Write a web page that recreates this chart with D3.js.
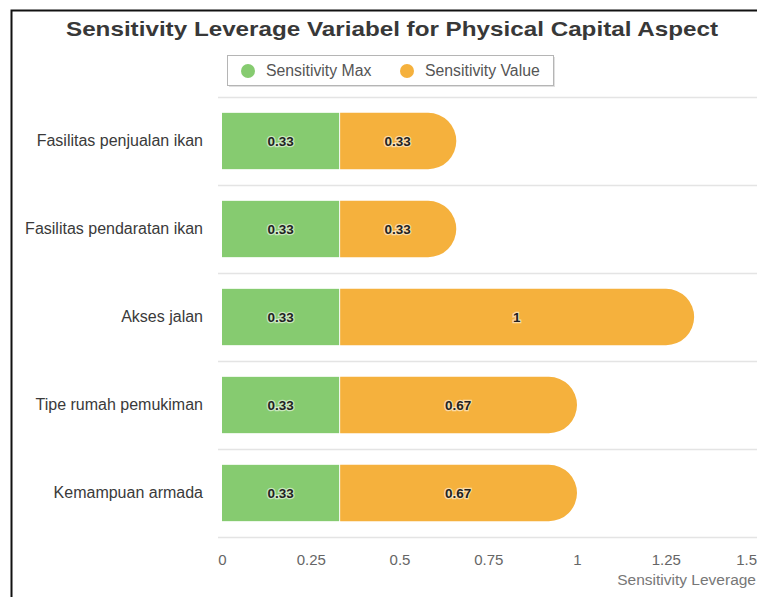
<!DOCTYPE html>
<html><head><meta charset="utf-8">
<script src="https://cdn.jsdelivr.net/npm/d3@7"></script>
<style>
html,body{margin:0;padding:0;background:#fff;}
svg{display:block;font-family:"Liberation Sans",Arial,sans-serif;}
</style></head>
<body>
<svg id="chart" width="757" height="597"></svg>
<script>
const title = "Sensitivity Leverage Variabel for Physical Capital Aspect";
const categories = ["Fasilitas penjualan ikan","Fasilitas pendaratan ikan","Akses jalan","Tipe rumah pemukiman","Kemampuan armada"];
const sensitivityMax = [0.33,0.33,0.33,0.33,0.33];
const sensitivityValue = [0.33,0.33,1,0.67,0.67];
const seriesNames = ["Sensitivity Max","Sensitivity Value"];
const seriesColors = ["#86cb70","#f5b13d"];
const xTicks = [0,0.25,0.5,0.75,1,1.25,1.5];
const xAxisTitle = "Sensitivity Leverage";

const svg = d3.select("#chart");
const W = 757, H = 597;
svg.append("rect").attr("width",W).attr("height",H).attr("fill","#fff");
// frame
svg.append("path").attr("d",`M11.5,${H} V10.5 H${W}`).attr("fill","none").attr("stroke","#111").attr("stroke-width",2);

const x = d3.scaleLinear().domain([0,1.5]).range([222,754.5]);
const y = d3.scaleBand().domain(categories).range([97,537]).paddingInner(0.36).paddingOuter(0.18);

// title
svg.append("text").attr("x",392).attr("y",36).attr("text-anchor","middle")
  .attr("font-size",21).attr("font-weight","bold").attr("fill","#383838")
  .attr("textLength",652).attr("lengthAdjust","spacingAndGlyphs").text(title);

// legend
const lg = svg.append("g");
lg.append("rect").attr("x",229).attr("y",57).attr("width",326).attr("height",30).attr("fill","#000").attr("opacity",0.12);
lg.append("rect").attr("x",227.5).attr("y",55.5).attr("width",326).attr("height",30).attr("fill","#fff").attr("stroke","#b5b5b5");
const legX = [248,407];
seriesNames.forEach((n,i)=>{
  lg.append("circle").attr("cx",legX[i]).attr("cy",71).attr("r",7).attr("fill",seriesColors[i]);
  lg.append("text").attr("x",legX[i]+18).attr("y",76).attr("font-size",15.8).attr("fill","#555").text(n);
});

// grid lines at band boundaries
const bounds = categories.map(c=>y(c)-y.step()*y.paddingInner()/2).concat([537]);
bounds[0]=97;
svg.append("g").selectAll("line").data(bounds).join("line")
  .attr("x1",218).attr("x2",W).attr("y1",d=>Math.round(d)+0.5).attr("y2",d=>Math.round(d)+0.5)
  .attr("stroke","#e4e4e4").attr("stroke-width",1.5);

// bars
const bh = y.bandwidth();
const rows = categories.map((c,i)=>({c,m:sensitivityMax[i],v:sensitivityValue[i]}));
const g = svg.append("g");
rows.forEach(d=>{
  const y0 = y(d.c);
  g.append("rect").attr("x",x(0)).attr("y",y0).attr("width",x(d.m)-x(0)).attr("height",bh).attr("fill",seriesColors[0]);
  const xs = x(d.m)+1, xe = x(d.m+d.v), r = bh/2;
  g.append("path").attr("d",`M${xs},${y0} H${xe-r} A${r},${r} 0 0 1 ${xe-r},${y0+bh} H${xs} Z`).attr("fill",seriesColors[1]);
  const lab = (t,cx)=>g.append("text").attr("x",cx).attr("y",y0+bh/2+5).attr("text-anchor","middle")
    .attr("font-size",13.5).attr("font-weight","bold").attr("fill","#222")
    .attr("stroke","#fff").attr("stroke-opacity",0.55).attr("stroke-width",2.5).attr("paint-order","stroke").text(t);
  lab(String(d.m),(x(0)+x(d.m))/2);
  lab(String(d.v),(x(d.m)+x(d.m+d.v))/2);
});

// y labels
svg.append("g").selectAll("text").data(categories).join("text")
  .attr("x",203).attr("y",d=>y(d)+bh/2+5).attr("text-anchor","end")
  .attr("font-size",16).attr("fill","#3a3a3a").text(d=>d);

// x axis
const xa = svg.append("g").attr("transform","translate(0,554)")
  .call(d3.axisBottom(x).tickValues(xTicks).tickSize(0).tickPadding(0).tickFormat(d=>String(d)));
xa.select(".domain").remove();
xa.selectAll("text").attr("font-size",15).attr("fill","#666").attr("dy","0.71em").attr("font-family","Liberation Sans, Arial, sans-serif");
xa.selectAll(".tick").filter(d=>d===1.5).select("text").attr("text-anchor","end").attr("x",2);

svg.append("text").attr("x",756).attr("y",585).attr("text-anchor","end").attr("font-size",15.5).attr("fill","#777").text(xAxisTitle);
</script>
</body></html>
